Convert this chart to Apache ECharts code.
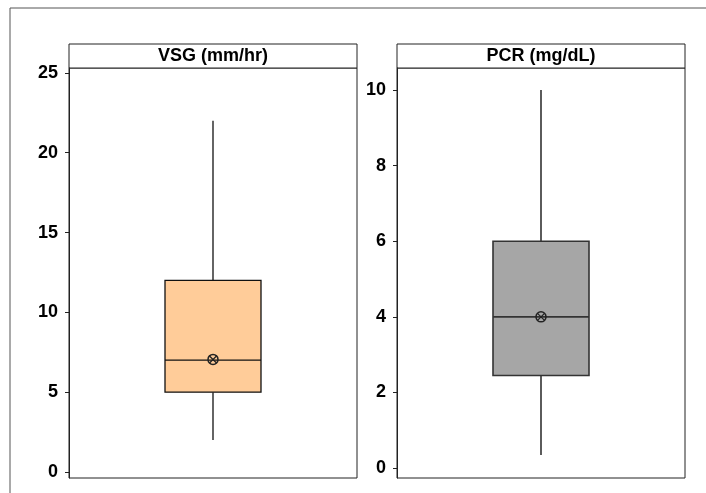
<!DOCTYPE html>
<html>
<head>
<meta charset="utf-8">
<script src="https://cdn.jsdelivr.net/npm/echarts@6/dist/echarts.min.js"></script>
<style>
  html, body { margin: 0; padding: 0; background: #fff; }
  #chart { width: 706px; height: 493px; }
</style>
</head>
<body>
<div id="chart"></div>
<script>
// panel titles
const panelTitles = ["VSG (mm/hr)", "PCR (mg/dL)"];

// box stats: [min, Q1, median, Q3, max]
const vsgBox = [2, 5, 7, 12, 22];
const pcrBox = [0.35, 2.45, 4, 6, 10];

// means
const vsgMean = 7.05;
const pcrMean = 4.0;

// tick labels
const vsgTicks = [0, 5, 10, 15, 20, 25];
const pcrTicks = [0, 2, 4, 6, 8, 10];

const chart = echarts.init(document.getElementById("chart"));

const FONT = "'Liberation Sans', Arial, sans-serif";
const grids = [
  { left: 69, top: 68, width: 288, height: 410 },
  { left: 397, top: 68, width: 288, height: 410 },
];

function yAxisFor(gridIndex, min, max, ticks) {
  return {
    type: "value",
    gridIndex,
    min,
    max,
    axisLine: { show: true, lineStyle: { color: "#222", width: 1 } },
    axisTick: { show: true, length: 4, customValues: ticks, lineStyle: { color: "#222" } },
    axisLabel: {
      customValues: ticks,
      color: "#000",
      fontSize: 18,
      fontWeight: "bold",
      fontFamily: FONT,
      margin: 11,
    },
    splitLine: { show: false },
  };
}

// box without whisker caps, box width = 1/3 of the band
function boxItem(fill, stroke, lw) {
  return function (params, api) {
    const x = api.value(0);
    const lo = api.coord([x, api.value(1)]);
    const q1 = api.coord([x, api.value(2)]);
    const med = api.coord([x, api.value(3)]);
    const q3 = api.coord([x, api.value(4)]);
    const hi = api.coord([x, api.value(5)]);
    const half = api.size([1, 0])[0] / 6;
    const cx = med[0];
    const line = { stroke, lineWidth: lw };
    return {
      type: "group",
      children: [
        { type: "line", shape: { x1: cx, y1: hi[1], x2: cx, y2: q3[1] }, style: line },
        { type: "line", shape: { x1: cx, y1: q1[1], x2: cx, y2: lo[1] }, style: line },
        {
          type: "rect",
          shape: { x: cx - half, y: q3[1], width: half * 2, height: q1[1] - q3[1] },
          style: { fill, stroke, lineWidth: lw },
        },
        { type: "line", shape: { x1: cx - half, y1: med[1], x2: cx + half, y2: med[1] }, style: line },
      ],
    };
  };
}

function meanMarker(color) {
  return function (params, api) {
    const p = api.coord([api.value(0), api.value(1)]);
    const r = 5;
    const d = r * 0.7;
    return {
      type: "group",
      children: [
        { type: "circle", shape: { cx: p[0], cy: p[1], r }, style: { fill: "none", stroke: color, lineWidth: 1.5 } },
        { type: "line", shape: { x1: p[0] - d, y1: p[1] - d, x2: p[0] + d, y2: p[1] + d }, style: { stroke: color, lineWidth: 1.3 } },
        { type: "line", shape: { x1: p[0] - d, y1: p[1] + d, x2: p[0] + d, y2: p[1] - d }, style: { stroke: color, lineWidth: 1.3 } },
      ],
    };
  };
}

function header(i) {
  const g = grids[i];
  return [
    {
      type: "rect",
      shape: { x: g.left, y: 44, width: g.width, height: 24 },
      style: { fill: "#fff", stroke: "#222", lineWidth: 1 },
    },
    {
      type: "text",
      x: g.left + g.width / 2,
      y: 56,
      style: {
        text: panelTitles[i],
        fill: "#000",
        font: "bold 18px " + FONT,
        textAlign: "center",
        textVerticalAlign: "middle",
      },
    },
  ];
}

const option = {
  animation: false,
  grid: grids.map((g) => ({ ...g, show: true, borderColor: "#222", borderWidth: 1 })),
  xAxis: [
    { type: "category", gridIndex: 0, data: [panelTitles[0]], show: false },
    { type: "category", gridIndex: 1, data: [panelTitles[1]], show: false },
  ],
  yAxis: [
    yAxisFor(0, -0.38, 25.31, vsgTicks),
    yAxisFor(1, -0.26, 10.58, pcrTicks),
  ],
  graphic: [
    {
      type: "polyline",
      shape: { points: [[10, 493], [10, 8], [706, 8]] },
      style: { stroke: "#555", fill: "none", lineWidth: 1 },
    },
    ...header(0),
    ...header(1),
  ],
  series: [
    {
      type: "custom",
      xAxisIndex: 0,
      yAxisIndex: 0,
      renderItem: boxItem("#FFCC99", "#111", 1.3),
      data: [[0, ...vsgBox]],
      encode: { x: 0, y: [1, 2, 3, 4, 5] },
    },
    {
      type: "custom",
      xAxisIndex: 1,
      yAxisIndex: 1,
      renderItem: boxItem("#A6A6A6", "#333", 1.6),
      data: [[0, ...pcrBox]],
      encode: { x: 0, y: [1, 2, 3, 4, 5] },
    },
    {
      type: "custom",
      xAxisIndex: 0,
      yAxisIndex: 0,
      renderItem: meanMarker("#222"),
      data: [[0, vsgMean]],
      z: 10,
    },
    {
      type: "custom",
      xAxisIndex: 1,
      yAxisIndex: 1,
      renderItem: meanMarker("#222"),
      data: [[0, pcrMean]],
      z: 10,
    },
  ],
};

chart.setOption(option);
</script>
</body>
</html>
